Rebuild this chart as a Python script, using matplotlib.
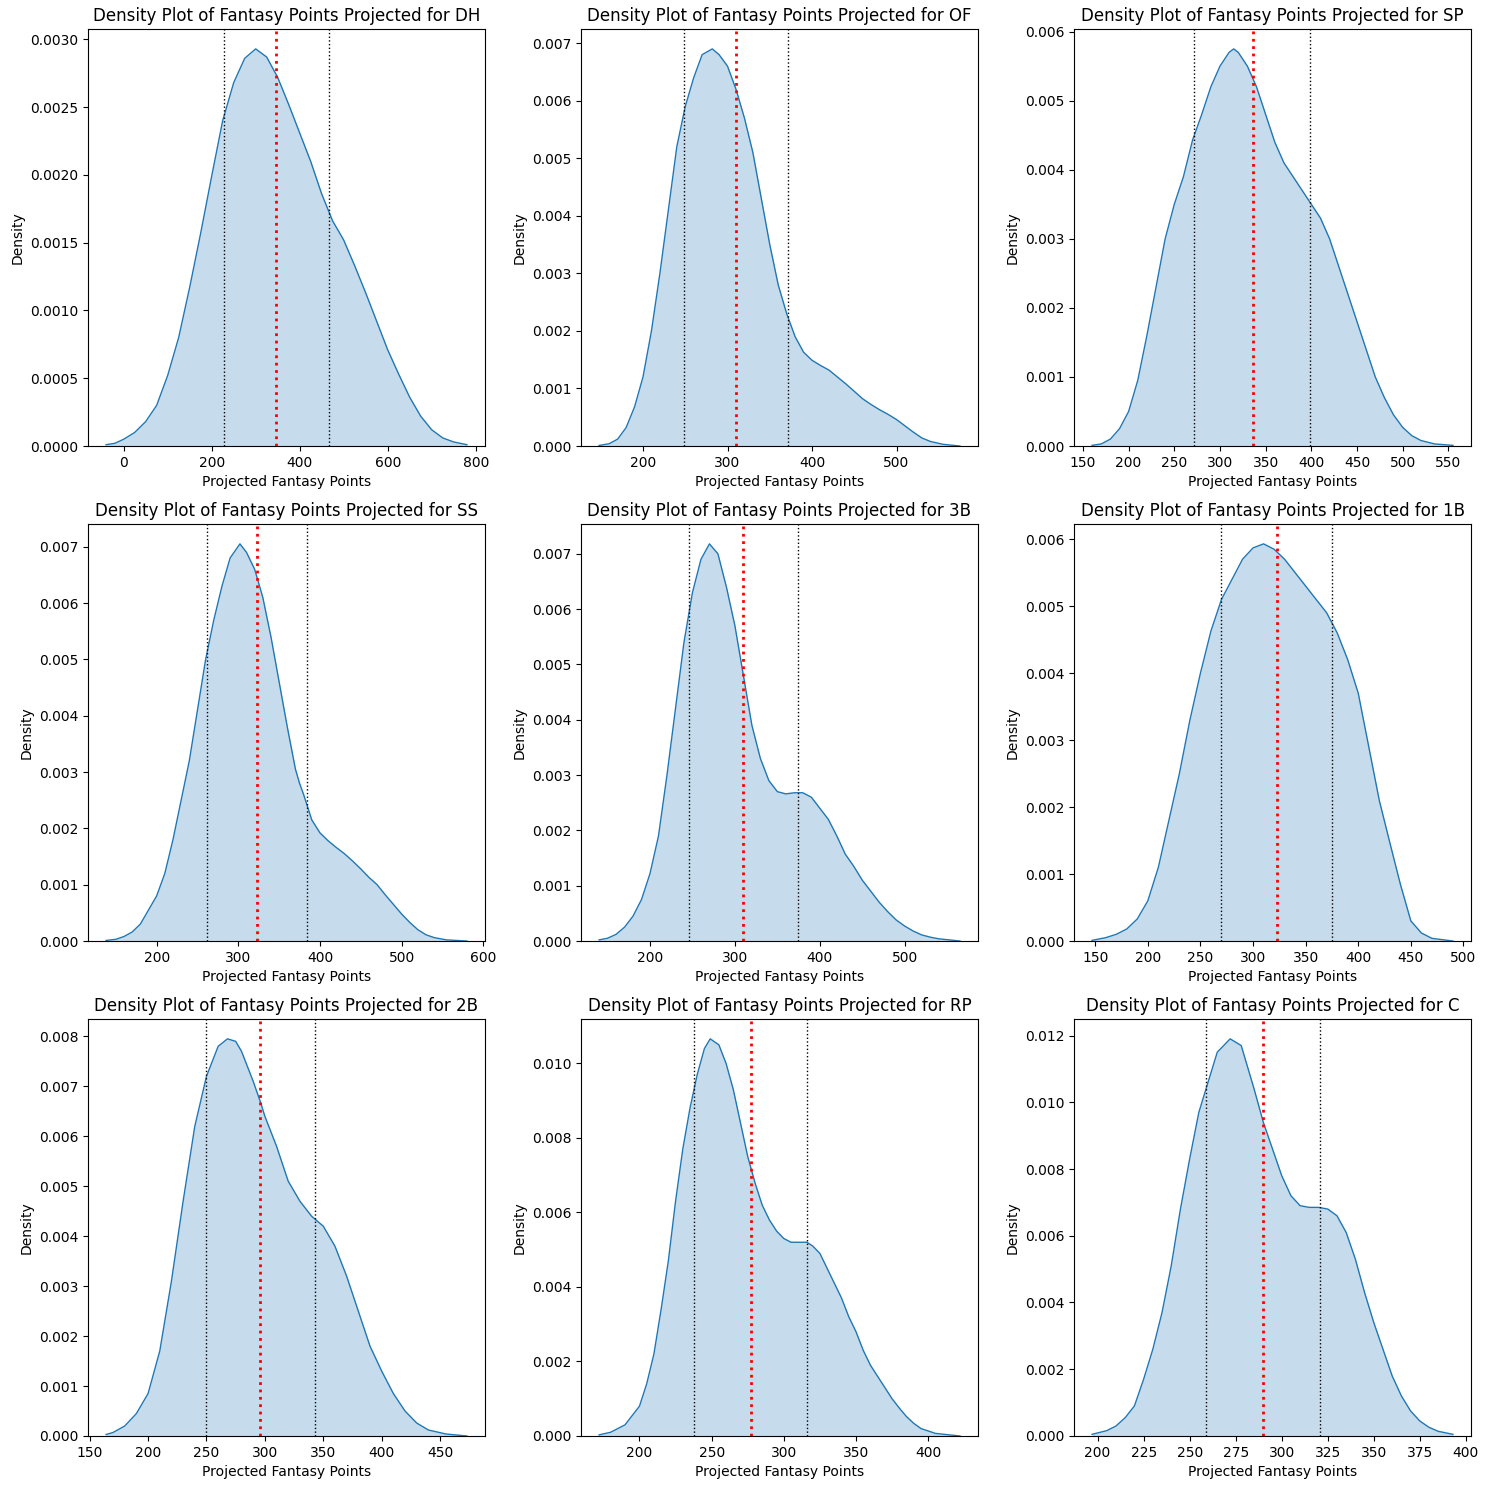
import matplotlib
matplotlib.use("Agg")
import matplotlib.pyplot as plt

positions = ["DH", "OF", "SP", "SS", "3B", "1B", "2B", "RP", "C"]

# Density curves (x = projected points, y = density)
dh_x = [-40, -20, 0, 25, 50, 75, 100, 125, 150, 175, 200, 225, 250, 275, 300, 325, 350, 375, 400, 425, 450, 475, 500, 525, 550, 575, 600, 625, 650, 675, 700, 725, 750, 780]
dh_y = [0.00001, 0.00002, 0.00005, 0.0001, 0.00018, 0.0003, 0.00052, 0.0008, 0.00117, 0.00157, 0.00199, 0.0024, 0.00268, 0.00286, 0.00293, 0.00287, 0.00272, 0.00252, 0.00231, 0.0021, 0.00186, 0.00166, 0.00152, 0.00133, 0.00113, 0.00092, 0.00071, 0.00053, 0.00036, 0.00022, 0.00012, 0.00006, 0.00003, 0.00001]

of_x = [148, 160, 170, 180, 190, 200, 210, 220, 230, 240, 250, 260, 270, 282, 290, 300, 310, 320, 330, 340, 350, 360, 370, 380, 390, 400, 410, 420, 430, 440, 450, 460, 470, 480, 490, 500, 510, 520, 530, 540, 555, 575]
of_y = [0.00001, 0.00004, 0.00012, 0.00032, 0.00068, 0.0012, 0.002, 0.003, 0.0041, 0.0052, 0.0059, 0.0064, 0.0068, 0.0069, 0.0068, 0.0066, 0.0062, 0.0057, 0.0051, 0.0043, 0.0035, 0.0028, 0.0023, 0.0019, 0.00163, 0.00149, 0.0014, 0.00132, 0.0012, 0.00108, 0.00095, 0.00082, 0.00072, 0.00063, 0.00055, 0.00046, 0.00035, 0.00024, 0.00014, 0.00008, 0.00003, 0.0]

sp_x = [160, 170, 180, 190, 200, 210, 220, 230, 240, 250, 260, 270, 280, 290, 300, 310, 315, 320, 330, 340, 350, 360, 370, 380, 390, 400, 410, 420, 430, 440, 450, 460, 470, 480, 490, 500, 510, 520, 535, 555]
sp_y = [0.00001, 0.00003, 0.0001, 0.00025, 0.0005, 0.00095, 0.0016, 0.0023, 0.003, 0.0035, 0.0039, 0.00443, 0.0048, 0.0052, 0.0055, 0.0057, 0.00575, 0.0057, 0.0055, 0.0052, 0.0048, 0.0044, 0.0041, 0.0039, 0.0037, 0.0035, 0.0033, 0.003, 0.0026, 0.0022, 0.0018, 0.0014, 0.001, 0.0007, 0.00045, 0.00027, 0.00015, 0.00008, 0.00003, 0.00001]

ss_x = [138, 150, 160, 170, 180, 190, 200, 210, 220, 230, 240, 250, 260, 270, 280, 290, 302, 310, 320, 330, 340, 350, 360, 370, 375, 380, 390, 400, 410, 420, 430, 440, 450, 460, 470, 480, 490, 500, 510, 520, 530, 540, 555, 580]
ss_y = [0.00001, 0.00003, 0.00008, 0.00016, 0.0003, 0.00055, 0.0008, 0.0012, 0.0018, 0.0025, 0.0032, 0.0041, 0.005, 0.0057, 0.0063, 0.0068, 0.00705, 0.0069, 0.0066, 0.0061, 0.0054, 0.0046, 0.0038, 0.00305, 0.0028, 0.0026, 0.00215, 0.00192, 0.00178, 0.00166, 0.00155, 0.00142, 0.00128, 0.00113, 0.001, 0.00082, 0.00065, 0.00048, 0.00033, 0.0002, 0.00011, 0.00006, 0.00002, 0.0]

tb_x = [140, 150, 160, 170, 180, 190, 200, 210, 220, 230, 240, 250, 260, 270, 280, 290, 300, 310, 320, 330, 340, 350, 360, 370, 380, 390, 400, 410, 420, 430, 440, 450, 460, 470, 480, 490, 500, 510, 520, 530, 540, 565]
tb_y = [0.00002, 0.00005, 0.00012, 0.00025, 0.00045, 0.00075, 0.00122, 0.0019, 0.003, 0.0042, 0.0054, 0.0063, 0.0069, 0.00718, 0.007, 0.0064, 0.0057, 0.0048, 0.0039, 0.0033, 0.0029, 0.0027, 0.00266, 0.00268, 0.00268, 0.0026, 0.0024, 0.0022, 0.0019, 0.00157, 0.00135, 0.0011, 0.0009, 0.0007, 0.00053, 0.00038, 0.00027, 0.00018, 0.00011, 0.00007, 0.00004, 0.0]

fb_x = [147, 160, 170, 180, 190, 200, 210, 220, 230, 240, 250, 260, 270, 280, 290, 300, 310, 320, 330, 340, 350, 360, 370, 380, 390, 400, 410, 420, 430, 440, 450, 460, 470, 490]
fb_y = [0.00001, 0.00005, 0.0001, 0.00018, 0.00033, 0.0006, 0.0011, 0.0018, 0.0025, 0.0033, 0.004, 0.00463, 0.0051, 0.0054, 0.0057, 0.00587, 0.00593, 0.00585, 0.0057, 0.0055, 0.0053, 0.0051, 0.0049, 0.0046, 0.0042, 0.0037, 0.0029, 0.0021, 0.00147, 0.00085, 0.0003, 0.00012, 0.00004, 0.0]

sb_x = [164, 170, 180, 190, 200, 210, 220, 230, 240, 250, 260, 268, 275, 280, 290, 296, 300, 310, 320, 330, 340, 350, 360, 370, 380, 390, 400, 410, 420, 430, 440, 455, 473]
sb_y = [0.00003, 0.00007, 0.0002, 0.00045, 0.00085, 0.0017, 0.0031, 0.0047, 0.0062, 0.0072, 0.0078, 0.00795, 0.0079, 0.0077, 0.0071, 0.0067, 0.0064, 0.0058, 0.0051, 0.0047, 0.0044, 0.0042, 0.0038, 0.0032, 0.0025, 0.0018, 0.0013, 0.00085, 0.0005, 0.00026, 0.00012, 0.00004, 0.0]

rp_x = [172, 180, 190, 200, 205, 210, 215, 220, 225, 230, 235, 240, 245, 249, 255, 260, 265, 270, 275, 280, 285, 290, 295, 300, 305, 310, 316, 320, 325, 330, 335, 340, 345, 350, 355, 360, 365, 370, 375, 380, 385, 390, 395, 405, 422]
rp_y = [0.00003, 0.0001, 0.0003, 0.0008, 0.0014, 0.0022, 0.0034, 0.0047, 0.0063, 0.0077, 0.0088, 0.0097, 0.0104, 0.01066, 0.0105, 0.01, 0.0093, 0.0084, 0.0075, 0.0068, 0.0062, 0.0058, 0.0055, 0.0053, 0.0052, 0.0052, 0.0052, 0.0051, 0.0049, 0.0045, 0.0041, 0.0037, 0.0032, 0.0028, 0.0023, 0.0019, 0.0016, 0.0013, 0.001, 0.00075, 0.00052, 0.00034, 0.0002, 0.00007, 0.0]

c_x = [197, 205, 210, 215, 220, 225, 230, 235, 240, 245, 250, 255, 260, 265, 272, 278, 285, 290, 295, 300, 305, 310, 315, 320, 325, 330, 335, 340, 345, 350, 355, 360, 365, 370, 375, 380, 385, 393]
c_y = [0.00005, 0.00016, 0.0003, 0.00055, 0.0009, 0.0017, 0.0026, 0.0037, 0.0051, 0.0068, 0.0083, 0.0097, 0.0106, 0.0115, 0.0119, 0.0117, 0.0104, 0.0094, 0.0086, 0.0078, 0.0072, 0.0069, 0.00685, 0.00685, 0.0068, 0.0066, 0.0061, 0.0053, 0.0043, 0.0034, 0.0026, 0.0018, 0.0012, 0.00075, 0.00045, 0.00026, 0.00014, 0.00005]

# Reference lines: 25th percentile, mean, 75th percentile
q25 = [228, 248, 272, 262, 246, 270, 250, 238, 259]
means = [347, 310, 336, 323, 309, 323, 296, 277, 290]
q75 = [466, 372, 399, 384, 374, 375, 343, 316, 321]

curves_x = [dh_x, of_x, sp_x, ss_x, tb_x, fb_x, sb_x, rp_x, c_x]
curves_y = [dh_y, of_y, sp_y, ss_y, tb_y, fb_y, sb_y, rp_y, c_y]

fig, axes = plt.subplots(3, 3, figsize=(14.89, 14.89), dpi=100)
fig.subplots_adjust(left=0.0591, right=0.9879, top=0.9805, bottom=0.0356,
                    wspace=0.242, hspace=0.187)

for ax, pos, xs, ys, a, m, b in zip(axes.flat, positions, curves_x, curves_y, q25, means, q75):
    ax.fill_between(xs, ys, 0, color="C0", alpha=0.25, linewidth=0)
    ax.plot(xs, ys, color="C0", linewidth=1.0, solid_joinstyle="round")
    ax.set_ylim(bottom=0)
    ax.axvline(a, color="black", linestyle=":", linewidth=1)
    ax.axvline(m, color="red", linestyle=":", linewidth=2)
    ax.axvline(b, color="black", linestyle=":", linewidth=1)
    ax.set_title(f"Density Plot of Fantasy Points Projected for {pos}")
    ax.set_xlabel("Projected Fantasy Points")
    ax.set_ylabel("Density")

fig.savefig("out.png", dpi=100)
